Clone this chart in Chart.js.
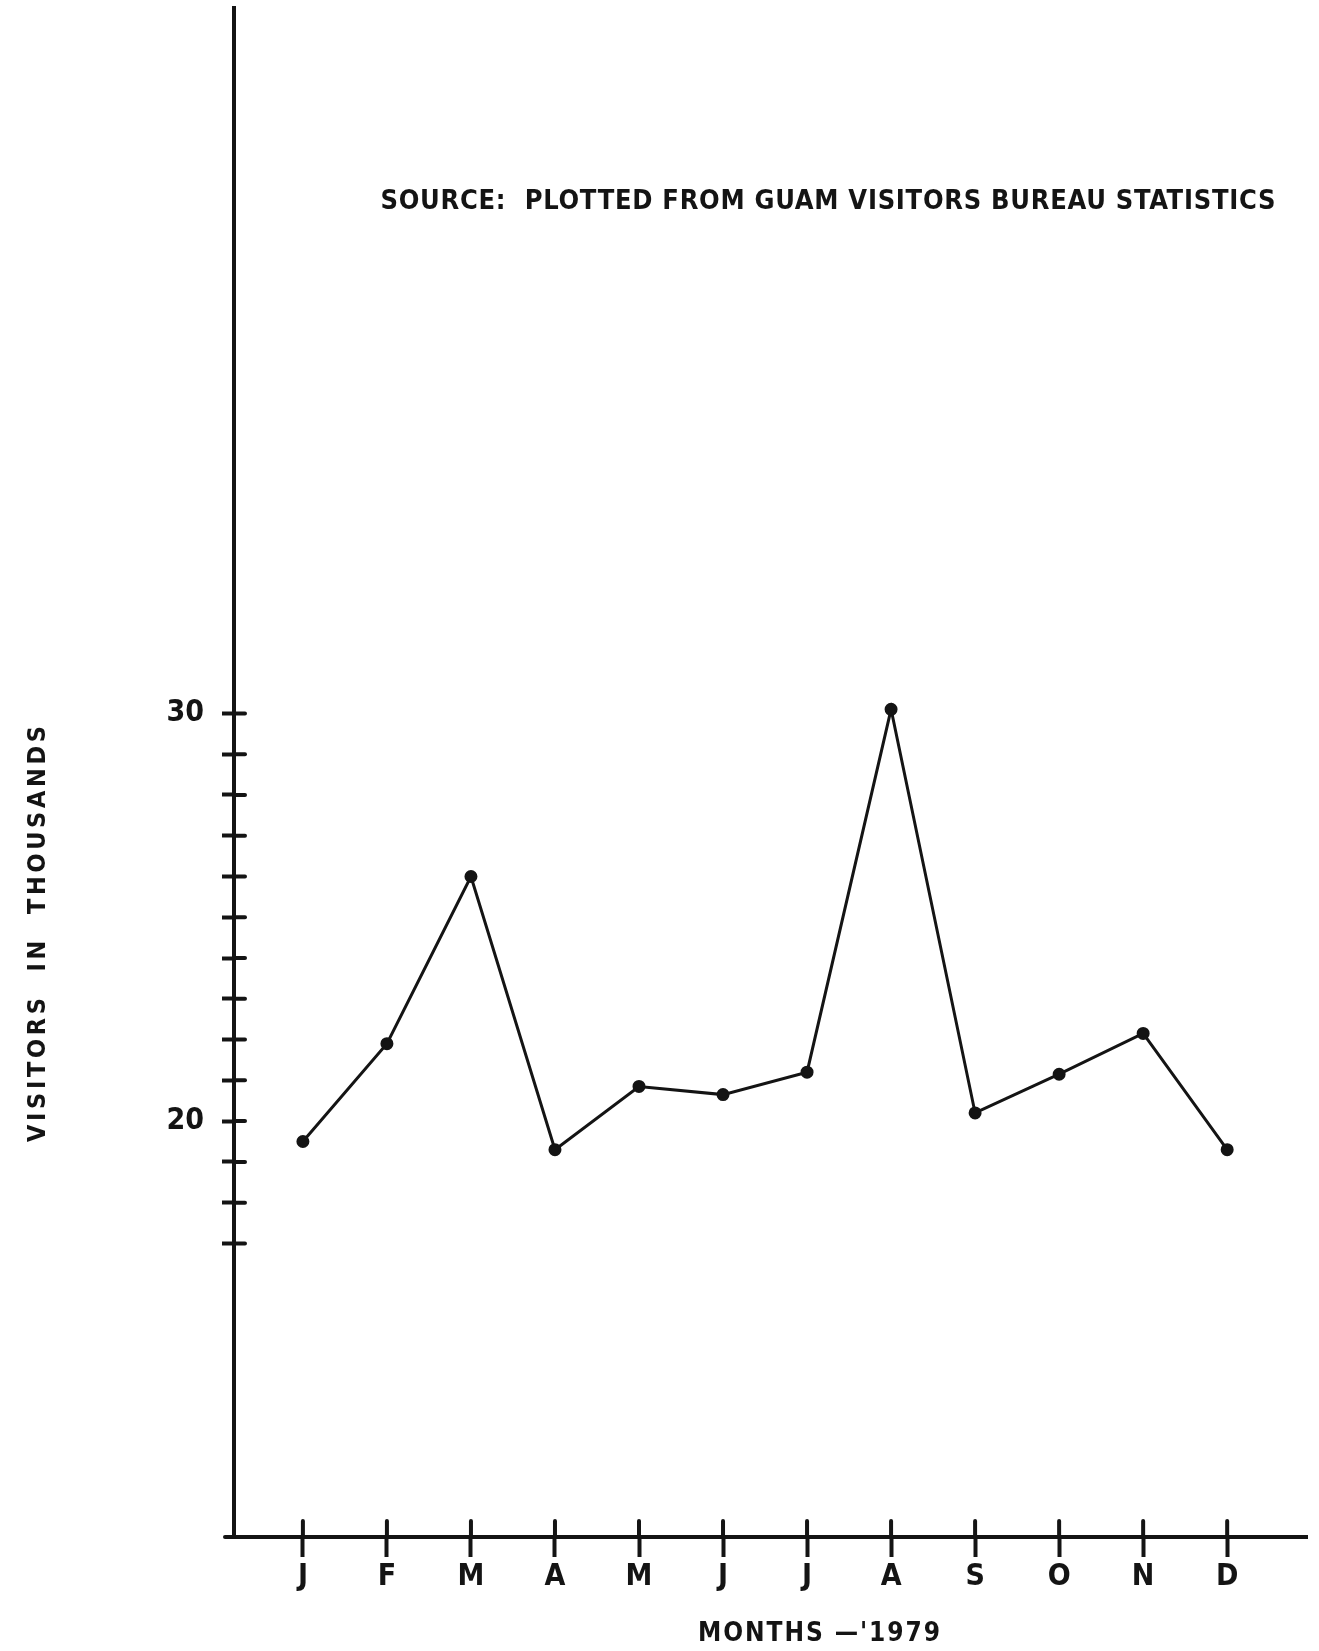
<!DOCTYPE html>
<html>
<head>
<meta charset="utf-8">
<script src="https://cdn.jsdelivr.net/npm/chart.js@4.4.1/dist/chart.umd.min.js"></script>
<style>
  html, body { margin: 0; padding: 0; background: #fff; }
  #wrap { width: 1319px; height: 1651px; position: relative; }
</style>
</head>
<body>
<div id="wrap"><canvas id="c"></canvas></div>
<script>
// Guam visitors, 1979 (thousands)
const months     = ['J','F','M','A','M','J','J','A','S','O','N','D'];
const visitors   = [19.5, 21.9, 26.0, 19.3, 20.85, 20.65, 21.2, 30.1, 20.2, 21.15, 22.15, 19.3];
const yTicks     = [17, 18, 19, 20, 21, 22, 23, 24, 25, 26, 27, 28, 29, 30];
const yTickLabels = { 20: '20', 30: '30' };

const sourceNote = 'SOURCE:  PLOTTED FROM GUAM VISITORS BUREAU STATISTICS';
const yTitle     = 'VISITORS  IN  THOUSANDS';
const xTitle     = "MONTHS \u2014'1979";

const ink  = '#141414';
const font = "'Liberation Sans Narrow', 'DejaVu Sans Condensed', 'Liberation Sans', sans-serif";

// draw a string so that it spans roughly `w` pixels, by spreading the letters
function fitText(ctx, text, cx, cy, w) {
  ctx.letterSpacing = '0px';
  const n = text.length;
  const natural = ctx.measureText(text).width;
  const sp = Math.max(0, (w - natural) / Math.max(1, n - 1));
  ctx.letterSpacing = sp.toFixed(2) + 'px';
  ctx.textAlign = 'center';
  ctx.textBaseline = 'middle';
  ctx.fillText(text, cx + sp / 2, cy);
  ctx.letterSpacing = '0px';
}

const handTicks = {
  id: 'handTicks',
  afterDraw(chart) {
    const { ctx, scales: { x, y } } = chart;
    ctx.save();
    ctx.strokeStyle = ink;
    ctx.lineWidth = 4;
    ctx.lineCap = 'round';
    // x axis runs a little past the y axis, like the drawing
    ctx.beginPath(); ctx.moveTo(x.left - 9, y.bottom); ctx.lineTo(x.left, y.bottom); ctx.stroke();
    // inner half of the crossing tick marks
    y.ticks.forEach(t => {
      const py = y.getPixelForValue(t.value);
      ctx.beginPath(); ctx.moveTo(x.left, py); ctx.lineTo(x.left + 11, py); ctx.stroke();
    });
    x.ticks.forEach(t => {
      const px = x.getPixelForValue(t.value);
      ctx.beginPath(); ctx.moveTo(px, y.bottom); ctx.lineTo(px, y.bottom - 16); ctx.stroke();
    });

    ctx.fillStyle = ink;
    ctx.font = 'bold 27px ' + font;
    fitText(ctx, sourceNote, 828, 202, 895);

    ctx.font = 'bold 26px ' + font;
    fitText(ctx, xTitle, 819, 1634, 242);

    ctx.save();
    ctx.translate(38, 934);
    ctx.rotate(-Math.PI / 2);
    ctx.font = 'bold 25px ' + font;
    fitText(ctx, yTitle, 0, 0, 416);
    ctx.restore();

    ctx.restore();
  }
};

new Chart(document.getElementById('c'), {
  type: 'line',
  data: {
    datasets: [{
      label: 'Visitors',
      data: visitors.map((v, i) => ({ x: i, y: v })),
      borderColor: ink,
      backgroundColor: ink,
      borderWidth: 3,
      pointRadius: 5,
      pointHoverRadius: 5,
      pointBackgroundColor: ink,
      pointBorderColor: ink,
      tension: 0
    }]
  },
  options: {
    responsive: true,
    maintainAspectRatio: false,
    animation: false,
    layout: { padding: { top: 6, right: 12, left: 0, bottom: 0 } },
    plugins: { legend: { display: false }, tooltip: { enabled: false } },
    scales: {
      x: {
        type: 'linear',
        min: -0.82,
        max: 11.95,
        afterBuildTicks: s => { s.ticks = months.map((m, i) => ({ value: i })); },
        afterFit: s => { s.height = 114; s.paddingLeft = 0; s.paddingRight = 0; },
        grid: { display: true, drawOnChartArea: false, drawTicks: true, tickLength: 20, tickWidth: 4, tickColor: ink },
        border: { color: ink, width: 4 },
        ticks: {
          color: ink,
          padding: 2,
          maxRotation: 0,
          autoSkip: false,
          font: { family: font, size: 30, weight: 'bold' },
          callback: v => months[v] ?? ''
        }
      },
      y: {
        type: 'linear',
        min: 9.8,
        max: 47.3,
        afterBuildTicks: s => { s.ticks = yTicks.map(v => ({ value: v })); },
        afterFit: s => { s.width = 234; s.paddingTop = 0; s.paddingBottom = 0; },
        grid: { display: true, drawOnChartArea: false, drawTicks: true, tickLength: 12, tickWidth: 4, tickColor: ink },
        border: { color: ink, width: 4 },
        ticks: {
          color: ink,
          padding: 18,
          autoSkip: false,
          font: { family: font, size: 30, weight: 'bold' },
          callback: v => yTickLabels[v] ?? ''
        }
      }
    }
  },
  plugins: [handTicks]
});
</script>
</body>
</html>
